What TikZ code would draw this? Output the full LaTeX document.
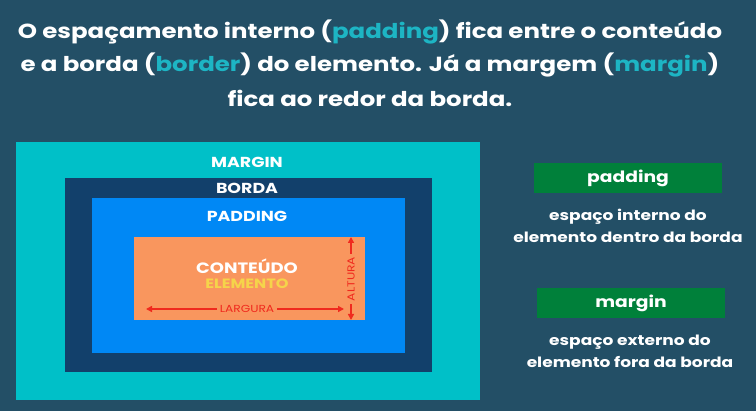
\documentclass[tikz,border=0pt]{standalone}
\usepackage{fontspec}
\setmainfont{Poppins}[FakeStretch=1.2]
\usetikzlibrary{arrows.meta}
\definecolor{bg}{HTML}{234F66}
\definecolor{cmargin}{HTML}{00C0C8}
\definecolor{cborda}{HTML}{12406B}
\definecolor{cpad}{HTML}{0088F5}
\definecolor{ccont}{HTML}{F9965E}
\definecolor{hl}{HTML}{1DB5C4}
\definecolor{cgreen}{HTML}{00803A}
\definecolor{cred}{HTML}{F02A1E}
\definecolor{cyel}{HTML}{F5D44A}
\begin{document}
\begin{tikzpicture}[x=1pt,y=-1pt,
  title/.style={text=white,font=\fontsize{20.4}{22}\selectfont\bfseries,inner sep=0pt},
  boxlabel/.style={text=white,font=\fontsize{14.5}{16}\selectfont\bfseries,inner sep=0pt},
  greenbox/.style={fill=cgreen,text=white,font=\fontsize{15.6}{18}\selectfont\bfseries,inner sep=0pt},
  desc/.style={text=white,font=\fontsize{14.2}{22}\selectfont\bfseries,align=center,inner sep=0pt},
  dim/.style={cred,line width=1.4pt,{Triangle[length=6pt,width=6pt]}-{Triangle[length=6pt,width=6pt]}},
  dimlabel/.style={text=cred,fill=ccont,font=\fontsize{10.2}{11}\selectfont,inner xsep=3pt,inner ysep=1pt}]
\useasboundingbox (0,0) rectangle (756,411);
\fill[bg] (0,0) rectangle (756,411);
% title
\node[title] (t1) at (370,32) {O espaçamento interno (\textcolor{hl}{padding}) fica entre o conteúdo};
\node[title] (t2) at (370,65) {e a borda (\textcolor{hl}{border}) do elemento. Já a margem (\textcolor{hl}{margin})};
\node[title] (t3) at (370,98) {fica ao redor da borda.};
% boxes
\fill[cmargin] (16,142) rectangle (480,400);
\fill[cborda] (65,178) rectangle (432,372);
\fill[cpad] (92,198) rectangle (405,353);
\fill[ccont] (134,237) rectangle (365,320);
\node[boxlabel] (lm) at (247,162) {MARGIN};
\node[boxlabel] (lb) at (247,188) {BORDA};
\node[boxlabel] (lp) at (247,216) {PADDING};
\node[boxlabel,font=\fontsize{15}{18}\selectfont\bfseries] (lc) at (247,266) {CONTEÚDO};
\node[boxlabel,text=cyel,font=\fontsize{13.5}{14}\selectfont\bfseries] (le) at (247,284) {ELEMENTO};
% dimensions
\coordinate (wl) at (146,309);
\coordinate (wr) at (344,309);
\coordinate (ht) at (351,237);
\coordinate (hb) at (351,320);
\draw[dim] (wl) -- (wr);
\draw[dim] (ht) -- (hb);
\node[dimlabel] (lw) at (247,309) {LARGURA};
\node[dimlabel,rotate=90] (lh) at (351,279) {ALTURA};
% right side
\node[greenbox,minimum width=188pt,minimum height=30pt] (gp) at (628,178) {padding};
\node[desc] (dp) at (628,226) {espaço interno do\\elemento dentro da borda};
\node[greenbox,minimum width=188pt,minimum height=30pt] (gm) at (631,303) {margin};
\node[desc] (dm) at (630,351) {espaço externo do\\elemento fora da borda};
\end{tikzpicture}
\end{document}
